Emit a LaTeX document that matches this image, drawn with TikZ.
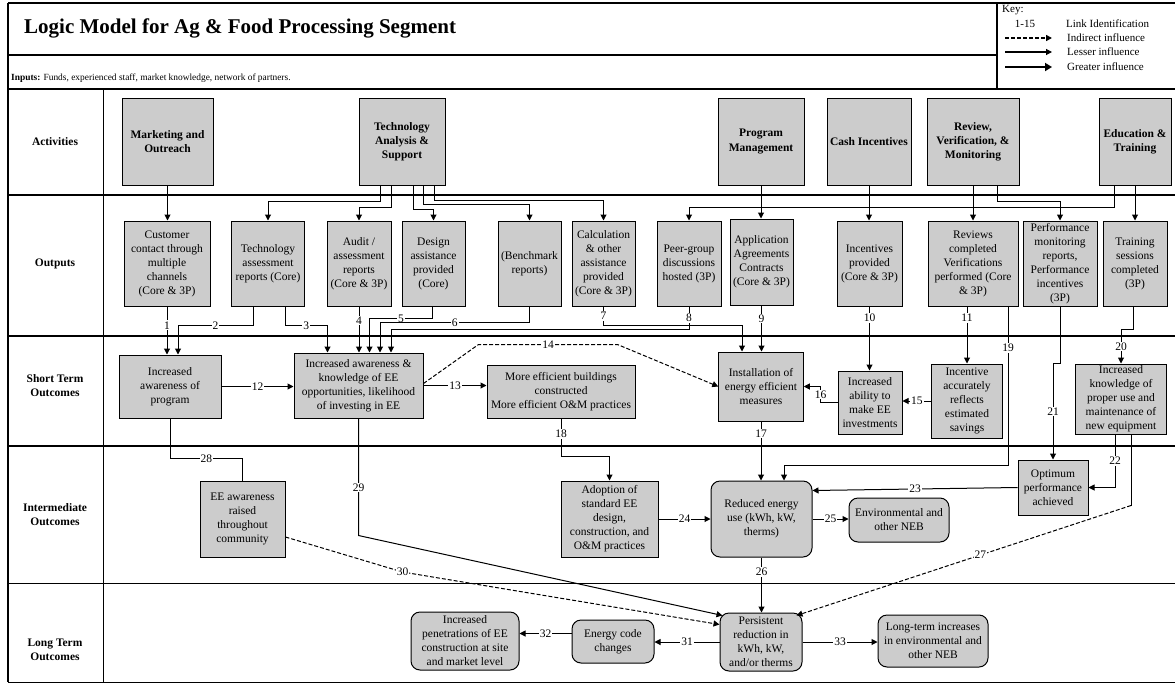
\documentclass[tikz,border=0pt]{standalone}
\usepackage{fontspec}
\setmainfont{Liberation Serif}
\usetikzlibrary{arrows.meta}
\newcommand{\boxfont}{\fontsize{11.5}{14}\selectfont}

\begin{document}
\begin{tikzpicture}[x=1pt, y=-1pt, every node/.style={font=\boxfont},
    actbox/.style={draw, line width=1pt, fill=boxgray, align=center, inner sep=0pt, font=\bfseries\boxfont},
    outbox/.style={draw, line width=1pt, fill=boxgray, align=center, inner sep=0pt},
    endbox/.style={outbox, rounded corners=9pt},
    sz/.style 2 args={minimum width=#1pt, minimum height=#2pt},
    rowlbl/.style={align=center, font=\bfseries\boxfont},
    link/.style={line width=1pt, -{Triangle[length=6pt,width=6pt]}},
    idash/.style={link, dash pattern=on 4pt off 2pt},
    lbl/.style={fill=white, inner sep=1pt}]
        \definecolor{boxgray}{RGB}{204,204,204}
        \useasboundingbox (0,0) rectangle (1175,683);

        % Frame and row lines
        \draw[line width=1.5pt] (8,3) -- (1176,3);
        \draw[line width=2.5pt] (8,3) -- (8,682);
        \draw[line width=1pt] (8,682) -- (1176,682);
        \draw[line width=1.5pt] (8,55) -- (997,55);
        \draw[line width=1.5pt] (997,3) -- (997,89);
        \draw[line width=2pt] (8,89) -- (1176,89);
        \draw[line width=2pt] (8,195) -- (1176,195);
        \draw[line width=2pt] (8,336) -- (1176,336);
        \draw[line width=2pt] (8,446) -- (1176,446);
        \draw[line width=1pt] (8,583) -- (1176,583);
        \draw[line width=1pt] (103,89) -- (103,682);

        % Title, inputs and key
        \node[anchor=west, inner sep=0pt, font=\bfseries\fontsize{21}{25}\selectfont] (title) at (24,28) {Logic Model for Ag \& Food Processing Segment};
        \node[anchor=west, inner sep=0pt, font=\fontsize{9.4}{11}\selectfont] (inputs) at (11,78) {\textbf{Inputs:} Funds, experienced staff, market knowledge, network of partners.};
        \node[anchor=west, inner sep=0pt, font=\fontsize{11}{13}\selectfont] (keyt) at (1002,10) {Key:};
        \node[inner sep=0pt, font=\fontsize{11}{13}\selectfont] (k115) at (1025,24) {1-15};
        \node[anchor=west, inner sep=0pt, font=\fontsize{11}{13}\selectfont] (klink) at (1066,24) {Link Identification};
        \node[anchor=west, inner sep=0pt, font=\fontsize{11}{13}\selectfont] (kind) at (1067,38) {Indirect influence};
        \node[anchor=west, inner sep=0pt, font=\fontsize{11}{13}\selectfont] (kless) at (1067,52) {Lesser influence};
        \node[anchor=west, inner sep=0pt, font=\fontsize{11}{13}\selectfont] (kgreat) at (1067,67) {Greater influence};
        \coordinate (ka1) at (1005,38); \coordinate (kb1) at (1052,38);
        \coordinate (ka2) at (1005,52); \coordinate (kb2) at (1052,52);
        \coordinate (ka3) at (1005,67); \coordinate (kb3) at (1052,67);
        \draw[idash, line width=1.6pt] (ka1) -- (kb1);
        \draw[link, line width=1.2pt] (ka2) -- (kb2);
        \draw[line width=2.2pt, -{Triangle[length=7pt,width=8pt]}] (ka3) -- (kb3);

        % Row labels
        \node[rowlbl] (ract) at (55,141.5) {Activities};
        \node[rowlbl] (rout) at (55,264) {Outputs};
        \node[rowlbl] (rsto) at (55,386) {Short Term\\Outcomes};
        \node[rowlbl] (rimo) at (55,515) {Intermediate\\Outcomes};
        \node[rowlbl] (rlto) at (55,650) {Long Term\\Outcomes};

        % Activities
        \node[actbox, sz={91}{87}] (mkt) at (167.5,141.5) {Marketing and\\Outreach};
        \node[actbox, sz={86}{87}] (tas) at (402,141.5) {Technology\\Analysis \&\\Support};
        \node[actbox, sz={86}{87}] (pgm) at (761,141.5) {Program\\Management};
        \node[actbox, sz={84}{87}] (cash) at (869,141.5) {Cash Incentives};
        \node[actbox, sz={92}{87}] (rvm) at (973,141.5) {Review,\\Verification, \&\\Monitoring};
        \node[actbox, sz={72}{87}] (edu) at (1135,141.5) {Education \&\\Training};

        % Outputs
        \node[outbox, sz={86}{85}] (cc) at (167,263.5) {Customer\\contact through\\multiple\\channels\\(Core \& 3P)};
        \node[outbox, sz={73}{85}] (tar) at (268,263.5) {Technology\\assessment\\reports (Core)};
        \node[outbox, sz={64}{85}] (aud) at (359,263.5) {Audit /\\assessment\\reports\\(Core \& 3P)};
        \node[outbox, sz={63}{85}] (des) at (433.5,263.5) {Design\\assistance\\provided\\(Core)};
        \node[outbox, sz={63}{85}] (ben) at (529.5,263.5) {(Benchmark\\reports)};
        \node[outbox, sz={63}{85}] (calc) at (603.5,263.5) {Calculation\\\& other\\assistance\\provided\\(Core \& 3P)};
        \node[outbox, sz={64}{85}] (peer) at (689,263.5) {Peer-group\\discussions\\hosted (3P)};
        \node[outbox, sz={63}{86}] (app) at (761.5,262) {Application\\Agreements\\Contracts\\(Core \& 3P)};
        \node[outbox, sz={65}{85}] (inc) at (869.5,263.5) {Incentives\\provided\\(Core \& 3P)};
        \node[outbox, sz={90}{85}] (rev) at (973,263.5) {Reviews\\completed\\Verifications\\performed (Core\\\& 3P)};
        \node[outbox, sz={74}{85}] (pmr) at (1060,263.5) {Performance\\monitoring\\reports,\\Performance\\incentives\\(3P)};
        \node[outbox, sz={64}{85}] (trn) at (1135,263.5) {Training\\sessions\\completed\\(3P)};

        % Short term outcomes
        \node[outbox, sz={102}{63}] (apr) at (170,386.5) {Increased\\awareness of\\program};
        \node[outbox, sz={129}{65}] (ake) at (358.5,385.5) {Increased awareness \&\\knowledge of EE\\opportunities, likelihood\\of investing in EE};
        \node[outbox, sz={148}{53}] (meb) at (561,391.5) {More efficient buildings\\constructed\\More efficient O\&M practices};
        \node[outbox, sz={84.5}{69}] (ins) at (761,386.5) {Installation of\\energy efficient\\measures};
        \node[outbox, sz={64}{63}] (iae) at (870,402.5) {Increased\\ability to\\make EE\\investments};
        \node[outbox, sz={71}{74}] (iar) at (967,401) {Incentive\\accurately\\reflects\\estimated\\savings};
        \node[outbox, sz={91}{70}] (ikp) at (1121,399) {Increased\\knowledge of\\proper use and\\maintenance of\\new equipment};

        % Intermediate outcomes
        \node[outbox, sz={85}{76}] (eea) at (242.5,519) {EE awareness\\raised\\throughout\\community};
        \node[outbox, sz={97}{76}] (ado) at (609.5,519) {Adoption of\\standard EE\\design,\\construction, and\\O\&M practices};
        \node[endbox, sz={101}{76}] (red) at (761.5,519) {Reduced energy\\use (kWh, kW,\\therms)};
        \node[endbox, sz={100}{44}] (env) at (899,520) {Environmental and\\other NEB};
        \node[outbox, sz={70}{55}] (opt) at (1053,487.5) {Optimum\\performance\\achieved};

        % Long term outcomes
        \node[endbox, sz={108}{58}] (pen) at (465,641) {Increased\\penetrations of EE\\construction at site\\and market level};
        \node[endbox, sz={82}{43}] (ecc) at (613,641.5) {Energy code\\changes};
        \node[endbox, sz={82}{58}] (per) at (761,642) {Persistent\\reduction in\\kWh, kW,\\and/or therms};
        \node[endbox, sz={110}{52}] (lti) at (933,641) {Long-term increases\\in environmental and\\other NEB};

        % Activities to outputs
        \draw[link] (mkt.south) -- (mkt.south |- cc.north);
        \draw[link] ([xshift=-22pt]tas.south) -- ++(0,16) -| (tar.north);
        \draw[link] ([xshift=-11pt]tas.south) -- ++(0,22) -| (aud.north);
        \draw[link] ([xshift=11pt]tas.south) -- ++(0,24) -| (des.north);
        \draw[link] ([xshift=21pt]tas.south) -- ++(0,19) -| (ben.north);
        \draw[link] ([xshift=32pt]tas.south) -- ++(0,15) -| (calc.north);
        \draw[link] (pgm.south) -- (pgm.south |- app.north);
        \draw[link] ([xshift=-21pt]edu.south) -- ++(0,22) -| (peer.north);
        \draw[link] (cash.south) -- (cash.south |- inc.north);
        \draw[link] (rvm.south) -- (rvm.south |- rev.north);
        \draw[link] ([xshift=24pt]rvm.south) -- ++(0,16) -| (pmr.north);
        \draw[link] (edu.south) -- (edu.south |- trn.north);

        % Outputs to short term outcomes
        \draw[link] (cc.south) -- node[lbl, pos=0.39] {1} (cc.south |- apr.north);
        \draw[link] ([xshift=-15pt]tar.south) -- ++(0,19) -| node[lbl, pos=0.25] {2} ([xshift=8pt]apr.north);
        \draw[link] ([xshift=17pt]tar.south) -- ++(0,19) -| node[lbl, pos=0.25] {3} ([xshift=-31pt]ake.north);
        \draw[link] (aud.south) -- node[lbl, pos=0.3] {4} (aud.south |- ake.north);
        \draw[link] ([xshift=-1pt]des.south) -- ++(0,12) -| node[lbl, pos=0.25] {5} ([xshift=11pt]ake.north);
        \draw[link] (ben.south) -- ++(0,16) -| node[lbl, pos=0.25] {6} ([xshift=21.5pt]ake.north);
        \draw[link] (calc.south) -- node[lbl] {7} ++(0,19) -| ([xshift=-19pt]ins.north);
        \draw[link] (peer.south) -- node[lbl] {8} ++(0,23) -| ([xshift=32.5pt]ake.north);
        \draw[link] (app.south) -- node[lbl, pos=0.28] {9} (app.south |- ins.north);
        \draw[link] (inc.south) -- node[lbl, pos=0.18] {10} (inc.south |- iae.north);
        \draw[link] ([xshift=-6pt]rev.south) -- node[lbl, pos=0.2] {11} ([xshift=-6pt]rev.south |- iar.north);
        \draw[link] ([xshift=35pt]rev.south) -- node[lbl, pos=0.26] {19} ++(0,159) -| ([xshift=22.5pt]red.north);
        \draw[link] ([xshift=-2pt]trn.south) -- ++(0,23) -| node[lbl, pos=0.75] {20} (ikp.north);
        \draw[link] (pmr.south) -- ++(0,57) -| node[lbl, pos=0.75] {21} (opt.north);

        % Short term links
        \draw[link] (apr.east) -- node[lbl] {12} (apr.east -| ake.west);
        \draw[link] (ake.east) -- node[lbl] {13} (ake.east -| meb.west);
        \draw[idash] ([yshift=2pt]ake.east) -- ++(55,-39) -- node[lbl] {14} ++(139,0) -- (ins.west);
        \draw[link] (iar.west) -- node[lbl] {15} (iar.west -| iae.east);
        \draw[link] (iae.west) -- ++(-17,0) |- node[lbl, pos=0.25] {16} (ins.east);

        % Short term to intermediate outcomes
        \draw[link] (ins.south) -- node[lbl, pos=0.2] {17} (ins.south |- red.north);
        \draw[link] (meb.south) -- node[lbl, pos=0.4] {18} ++(0,38) -| (ado.north);
        \draw[link] ([xshift=-6pt]ikp.south) |- node[lbl, pos=0.25] {22} (opt.east);
        \draw[link] (opt.west) -- node[lbl] {23} ([yshift=-10pt]red.north east);
        \draw[line width=1pt] (apr.south) -- ++(0,40) -| node[lbl, pos=0.25] {28} (eea.north);

        % Intermediate links
        \draw[link] (ado.east) -- node[lbl] {24} (ado.east -| red.west);
        \draw[link] (red.east) -- node[lbl] {25} (red.east -| env.west);

        % To long term outcomes
        \draw[link] (red.south) -- node[lbl, pos=0.26] {26} (red.south |- per.north);
        \draw[line width=1pt] ([xshift=10pt]ikp.south) -- ++(0,71) coordinate (k27);
        \draw[idash] (k27) -- node[lbl, pos=0.45] {27} ([xshift=-6pt,yshift=-3pt]per.north east);
        \draw[link] (ake.south) -- node[lbl, pos=0.59] {29} ++(0,117) -- ([xshift=3pt,yshift=-3pt]per.north west);
        \draw[idash] ([yshift=-18pt]eea.east) -- ++(117,35) node[lbl] {30} -- ([yshift=-12pt]per.north west);

        % Long term links
        \draw[link] (per.west) -- node[lbl] {31} (per.west -| ecc.east);
        \draw[link] ([yshift=8pt]ecc.west) -- node[lbl] {32} ([yshift=8pt]ecc.west -| pen.east);
        \draw[link] (per.east) -- node[lbl] {33} (per.east -| lti.west);
    \end{tikzpicture}
\end{document}
